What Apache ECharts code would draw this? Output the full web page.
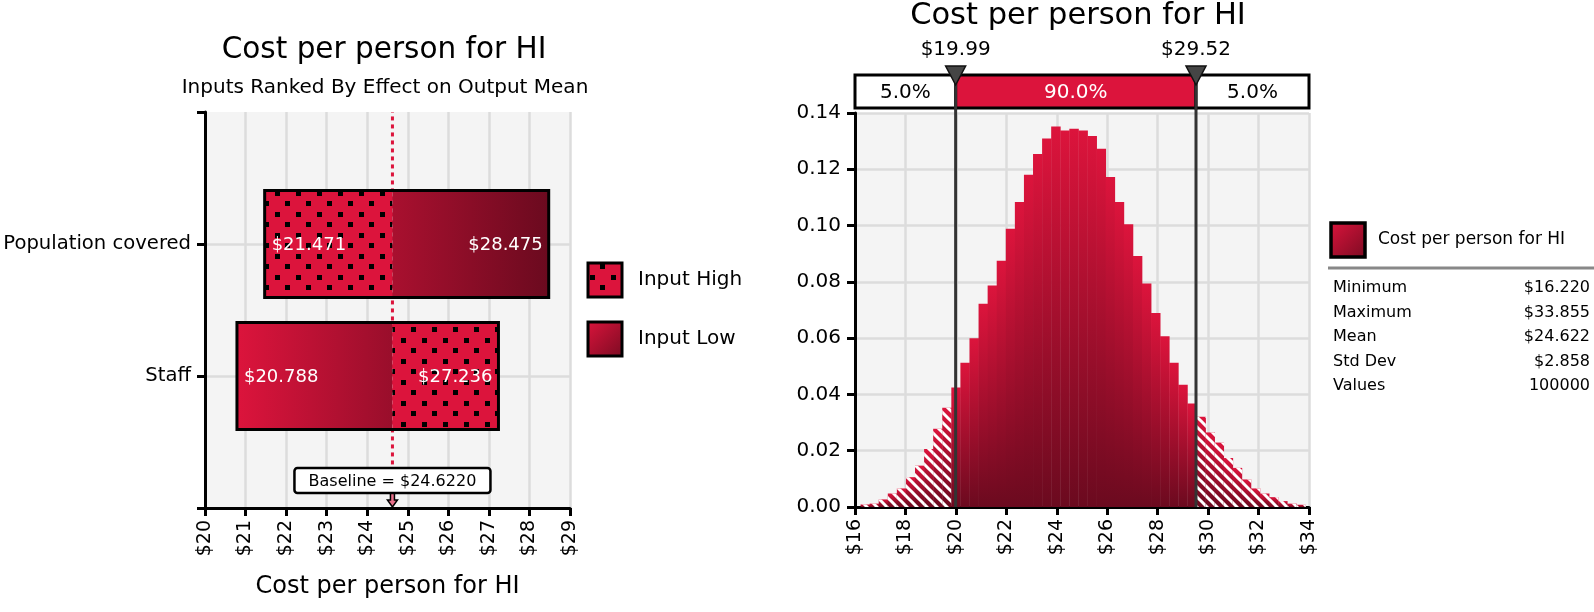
<!DOCTYPE html>
<html>
<head>
<meta charset="utf-8">
<script src="https://cdn.jsdelivr.net/npm/echarts@6/dist/echarts.min.js"></script>
<style>html,body{margin:0;padding:0;background:#fff}#c{width:1594px;height:612px}</style>
</head>
<body>
<div id="c"></div>
<script>
// ---------------- data ----------------
const tornadoTitle = 'Cost per person for HI';
const tornadoSubtitle = 'Inputs Ranked By Effect on Output Mean';
const tornadoAxisName = 'Cost per person for HI';
const tornadoInputs = ['Population covered', 'Staff'];
const outputAtInputLow = [28.475, 20.788];
const outputAtInputHigh = [21.471, 27.236];
const baselineValue = 24.622;
const baselineLabel = 'Baseline = $24.6220';
const tornadoLegend = ['Input High', 'Input Low'];

const histTitle = 'Cost per person for HI';
const histMin = 16.22;
const histMax = 33.855;
const histDensity = [
  0.0009, 0.0012, 0.0027, 0.0048, 0.0066, 0.0106, 0.0147, 0.0206, 0.0278, 0.0353,
  0.0425, 0.0513, 0.0600, 0.0722, 0.0787, 0.0875, 0.0989, 0.1084, 0.1181, 0.1254, 0.1309,
  0.1352, 0.1338, 0.1344, 0.1338, 0.1318, 0.1273, 0.1173, 0.1084, 0.1005, 0.0892,
  0.0794, 0.0689, 0.0607, 0.0513, 0.0434, 0.0368,
  0.0321, 0.0265, 0.0229, 0.0174, 0.0139, 0.0098, 0.0066, 0.0048, 0.0035, 0.0021, 0.0012, 0.0008
];
const pLow = 19.99;
const pHigh = 29.52;
const bandLabels = ['5.0%', '90.0%', '5.0%'];
const statLegend = 'Cost per person for HI';
const statNames = ['Minimum', 'Maximum', 'Mean', 'Std Dev', 'Values'];
const statValues = ['$16.220', '$33.855', '$24.622', '$2.858', '100000'];

// ---------------- style helpers ----------------
const FONT = '"DejaVu Sans", Verdana, sans-serif';
const crimson = '#dc143c';
const darkRed = '#6b0a1f';
const gridColor = '#dcdcdc';
function f(sz){ return sz + 'px ' + FONT; }
function hex2rgb(h){ return [parseInt(h.slice(1,3),16), parseInt(h.slice(3,5),16), parseInt(h.slice(5,7),16)]; }
function lerpColor(a, b, t){ const A = hex2rgb(a), B = hex2rgb(b); return 'rgb(' + A.map((v,i)=>Math.round(v + (B[i]-v)*t)).join(',') + ')'; }

function makeDots(){
  const c = document.createElement('canvas'); c.width = 21; c.height = 21;
  const g = c.getContext('2d');
  g.fillStyle = crimson; g.fillRect(0,0,21,21);
  g.fillStyle = '#000'; g.fillRect(2,2,5,5); g.fillRect(12,12,5,5);
  return c;
}
function makeHatch(){
  const c = document.createElement('canvas'); c.width = 10; c.height = 10;
  const g = c.getContext('2d');
  g.strokeStyle = '#fff'; g.lineWidth = 3;
  g.beginPath();
  g.moveTo(-5,5); g.lineTo(5,15);
  g.moveTo(0,0); g.lineTo(10,10);
  g.moveTo(5,-5); g.lineTo(15,5);
  g.stroke();
  return c;
}
const dotCanvas = makeDots();
const hatchCanvas = makeHatch();
const dotFill = () => ({ image: dotCanvas, repeat: 'repeat' });
const hatchFill = () => ({ image: hatchCanvas, repeat: 'repeat' });

// ---------------- derived series data ----------------
const tornadoData = tornadoInputs.map((n, i) => [tornadoInputs.length - i, outputAtInputLow[i], outputAtInputHigh[i]]);
const binW = (histMax - histMin) / histDensity.length;
const histData = histDensity.map((d, k) => [histMin + k * binW, histMin + (k + 1) * binW, d]);
const X1MIN = 16, X1MAX = 34, Y1MAX = 0.14;
const bandData = [[X1MIN, pLow], [pLow, pHigh], [pHigh, X1MAX]];
const markerData = [[pLow], [pHigh]];

// ---------------- renderers ----------------
function renderTornado(params, api){
  const yv = api.value(0), lo = api.value(1), hi = api.value(2);
  const L = Math.min(lo, hi), R = Math.max(lo, hi);
  const a = api.coord([L, yv + 0.405]), b = api.coord([R, yv - 0.405]), pb = api.coord([baselineValue, yv]);
  const x0 = a[0], y0 = a[1], x1 = b[0], y1 = b[1], xb = pb[0];
  const h = y1 - y0, W = x1 - x0, fb = (xb - x0) / W;
  const lowLeft = lo < hi;
  const grad = (f0, f1) => new echarts.graphic.LinearGradient(0, 0, 1, 0, [
    { offset: 0, color: lerpColor(crimson, darkRed, f0) },
    { offset: 1, color: lerpColor(crimson, darkRed, f1) }]);
  const leftFill = lowLeft ? grad(0, fb) : dotFill();
  const rightFill = lowLeft ? dotFill() : grad(fb, 1);
  const cy = (y0 + y1) / 2;
  return { type: 'group', children: [
    { type: 'rect', shape: { x: x0, y: y0, width: xb - x0, height: h }, style: { fill: leftFill } },
    { type: 'rect', shape: { x: xb, y: y0, width: x1 - xb, height: h }, style: { fill: rightFill } },
    { type: 'rect', shape: { x: x0, y: y0, width: W, height: h }, style: { fill: 'none', stroke: '#000', lineWidth: 3 } },
    { type: 'text', style: { text: '$' + L.toFixed(3), x: x0 + 7, y: cy + 1, fill: '#fff', font: f(18), align: 'left', textAlign: 'left', verticalAlign: 'middle', textVerticalAlign: 'middle' } },
    { type: 'text', style: { text: '$' + R.toFixed(3), x: x1 - 6, y: cy + 1, fill: '#fff', font: f(18), align: 'right', textAlign: 'right', verticalAlign: 'middle', textVerticalAlign: 'middle' } }
  ]};
}
function renderBaseline(params, api){
  const p = api.coord([api.value(0), 0]);
  const cx = p[0], yb = p[1];
  const bw = 196, bh = 25, top = yb - 40;
  return { type: 'group', children: [
    { type: 'polygon', shape: { points: [[cx-2, top+bh], [cx+2, top+bh], [cx+2, yb-8], [cx+5, yb-8], [cx, yb-1], [cx-5, yb-8], [cx-2, yb-8]] },
      style: { fill: '#e8708a', stroke: '#000', lineWidth: 1.5 } },
    { type: 'rect', shape: { x: cx - bw/2, y: top, width: bw, height: bh, r: 3 }, style: { fill: '#fff', stroke: '#000', lineWidth: 2.5 } },
    { type: 'text', style: { text: baselineLabel, x: cx, y: top + bh/2 + 1, fill: '#000', font: f(16), align: 'center', textAlign: 'center', verticalAlign: 'middle', textVerticalAlign: 'middle' } }
  ]};
}
function renderHist(params, api){
  const x0 = api.value(0), x1 = api.value(1), d = api.value(2);
  const a = api.coord([x0, d]), b = api.coord([x1, 0]);
  const shape = { x: a[0], y: a[1], width: b[0] - a[0] + 0.4, height: b[1] - a[1] };
  const mid = (x0 + x1) / 2;
  const fill = new echarts.graphic.LinearGradient(0, 0, 0, 1, [{ offset: 0, color: crimson }, { offset: 1, color: darkRed }]);
  const children = [{ type: 'rect', shape, style: { fill } }];
  if (mid < pLow || mid > pHigh) children.push({ type: 'rect', shape, style: { fill: hatchFill() } });
  return { type: 'group', children };
}
function renderBand(params, api){
  const i = params.dataIndex;
  const a = api.coord([api.value(0), Y1MAX]), b = api.coord([api.value(1), Y1MAX]);
  const top = a[1] - 38, h = 33;
  const mid = i === 1;
  return { type: 'group', children: [
    { type: 'rect', shape: { x: a[0], y: top, width: b[0] - a[0], height: h }, style: { fill: mid ? crimson : '#fff', stroke: '#000', lineWidth: 3 } },
    { type: 'text', style: { text: bandLabels[i], x: (a[0] + b[0]) / 2, y: top + h/2 + 1, fill: mid ? '#fff' : '#000', font: f(20), align: 'center', textAlign: 'center', verticalAlign: 'middle', textVerticalAlign: 'middle' } }
  ]};
}
function renderMarker(params, api){
  const v = api.value(0);
  const t = api.coord([v, Y1MAX]), bt = api.coord([v, 0]);
  const x = t[0], gt = t[1];
  return { type: 'group', children: [
    { type: 'line', shape: { x1: x, y1: gt - 38, x2: x, y2: bt[1] }, style: { stroke: '#333', lineWidth: 3 } },
    { type: 'polygon', shape: { points: [[x-10, gt-47], [x+10, gt-47], [x, gt-28]] }, style: { fill: '#454545', stroke: '#111', lineWidth: 1.5 } },
    { type: 'text', style: { text: '$' + v.toFixed(2), x: x, y: gt - 63, fill: '#000', font: f(20), align: 'center', textAlign: 'center', verticalAlign: 'middle', textVerticalAlign: 'middle' } }
  ]};
}

// ---------------- option ----------------
const axisLineStyle = { show: true, onZero: false, lineStyle: { color: '#000', width: 3 } };
const axisTickStyle = { show: true, length: 8, lineStyle: { color: '#000', width: 3 } };
const splitStyle = { show: true, lineStyle: { color: gridColor, width: 2.5 } };

const graphics = [
  { type: 'text', x: 384, y: 50, style: { text: tornadoTitle, font: f(29.5), fill: '#000', align: 'center', textAlign: 'center', verticalAlign: 'middle', textVerticalAlign: 'middle' } },
  { type: 'text', x: 385, y: 88, style: { text: tornadoSubtitle, font: f(20), fill: '#000', align: 'center', textAlign: 'center', verticalAlign: 'middle', textVerticalAlign: 'middle' } },
  { type: 'text', x: 1078, y: 16, style: { text: histTitle, font: f(30.5), fill: '#000', align: 'center', textAlign: 'center', verticalAlign: 'middle', textVerticalAlign: 'middle' } },
  // tornado legend
  { type: 'rect', shape: { x: 588, y: 263, width: 34, height: 34 }, style: { fill: dotFill(), stroke: '#000', lineWidth: 3 } },
  { type: 'text', x: 638, y: 280, style: { text: tornadoLegend[0], font: f(20), fill: '#000', align: 'left', textAlign: 'left', verticalAlign: 'middle', textVerticalAlign: 'middle' } },
  { type: 'rect', shape: { x: 588, y: 322, width: 34, height: 34 }, style: { fill: new echarts.graphic.LinearGradient(0, 0, 1, 1, [{ offset: 0, color: crimson }, { offset: 1, color: '#7a0b22' }]), stroke: '#000', lineWidth: 3 } },
  { type: 'text', x: 638, y: 339, style: { text: tornadoLegend[1], font: f(20), fill: '#000', align: 'left', textAlign: 'left', verticalAlign: 'middle', textVerticalAlign: 'middle' } },
  // histogram legend + stats
  { type: 'rect', shape: { x: 1331, y: 223, width: 34, height: 34 }, style: { fill: new echarts.graphic.LinearGradient(0, 0, 1, 1, [{ offset: 0, color: crimson }, { offset: 1, color: '#7a0b22' }]), stroke: '#000', lineWidth: 3.5 } },
  { type: 'text', x: 1378, y: 240, style: { text: statLegend, font: f(17), fill: '#000', align: 'left', textAlign: 'left', verticalAlign: 'middle', textVerticalAlign: 'middle' } },
  { type: 'line', shape: { x1: 1328, y1: 268, x2: 1594, y2: 268 }, style: { stroke: '#888', lineWidth: 3 } }
];
statNames.forEach((n, i) => {
  const y = 288 + i * 24.5;
  graphics.push({ type: 'text', x: 1333, y: y, style: { text: n, font: f(16), fill: '#000', align: 'left', textAlign: 'left', verticalAlign: 'middle', textVerticalAlign: 'middle' } });
  graphics.push({ type: 'text', x: 1590, y: y, style: { text: statValues[i], font: f(16), fill: '#000', align: 'right', textAlign: 'right', verticalAlign: 'middle', textVerticalAlign: 'middle' } });
});

const option = {
  animation: false,
  backgroundColor: '#fff',
  textStyle: { fontFamily: FONT },
  grid: [
    { left: 205, top: 112, width: 365, height: 396, show: true, backgroundColor: '#f4f4f4', borderWidth: 0, containLabel: false, outerBoundsMode: 'none' },
    { left: 855, top: 113, width: 454, height: 394, show: true, backgroundColor: '#f4f4f4', borderWidth: 0, containLabel: false, outerBoundsMode: 'none' }
  ],
  xAxis: [
    { type: 'value', gridIndex: 0, min: 20, max: 29, interval: 1,
      axisLine: axisLineStyle, axisTick: axisTickStyle, splitLine: splitStyle,
      axisLabel: { rotate: 90, fontSize: 19, color: '#000', fontFamily: FONT, margin: 12, formatter: v => '$' + v },
      name: tornadoAxisName, nameLocation: 'middle', nameGap: 67,
      nameTextStyle: { fontSize: 24, color: '#000', fontFamily: FONT } },
    { type: 'value', gridIndex: 1, min: X1MIN, max: X1MAX, interval: 2,
      axisLine: axisLineStyle, axisTick: axisTickStyle, splitLine: splitStyle,
      axisLabel: { rotate: 90, fontSize: 19, color: '#000', fontFamily: FONT, margin: 12, formatter: v => '$' + v } }
  ],
  yAxis: [
    { type: 'value', gridIndex: 0, min: 0, max: 3, interval: 1,
      axisLine: axisLineStyle, axisTick: axisTickStyle,
      splitLine: { show: true, lineStyle: { color: ['rgba(0,0,0,0)', gridColor, gridColor, 'rgba(0,0,0,0)'], width: 2.5 } },
      axisLabel: { fontSize: 19.6, color: '#000', fontFamily: FONT, margin: 14,
        formatter: v => tornadoInputs[tornadoInputs.length - v] || '' } },
    { type: 'value', gridIndex: 1, min: 0, max: Y1MAX, interval: 0.02,
      axisLine: axisLineStyle, axisTick: axisTickStyle, splitLine: splitStyle,
      axisLabel: { fontSize: 20, color: '#000', fontFamily: FONT, margin: 14, formatter: v => v.toFixed(2) } }
  ],
  series: [
    { type: 'line', xAxisIndex: 0, yAxisIndex: 0, data: [[baselineValue, 0.33], [baselineValue, 3]],
      symbol: 'none', silent: true, z: 2, lineStyle: { color: crimson, width: 3, type: [4, 4] } },
    { type: 'custom', xAxisIndex: 0, yAxisIndex: 0, data: tornadoData, encode: { x: [1, 2], y: 0 }, renderItem: renderTornado, z: 3, silent: true },
    { type: 'custom', xAxisIndex: 0, yAxisIndex: 0, data: [[baselineValue, 0]], encode: { x: 0, y: 1 }, renderItem: renderBaseline, z: 4, silent: true },
    { type: 'custom', xAxisIndex: 1, yAxisIndex: 1, data: histData, encode: { x: [0, 1], y: 2 }, renderItem: renderHist, z: 3, silent: true },
    { type: 'custom', xAxisIndex: 1, yAxisIndex: 1, data: bandData, encode: { x: [0, 1] }, renderItem: renderBand, z: 4, silent: true },
    { type: 'custom', xAxisIndex: 1, yAxisIndex: 1, data: markerData, encode: { x: 0 }, renderItem: renderMarker, z: 5, silent: true }
  ],
  graphic: graphics
};
const chart = echarts.init(document.getElementById('c'));
chart.setOption(option);
</script>
</body>
</html>
